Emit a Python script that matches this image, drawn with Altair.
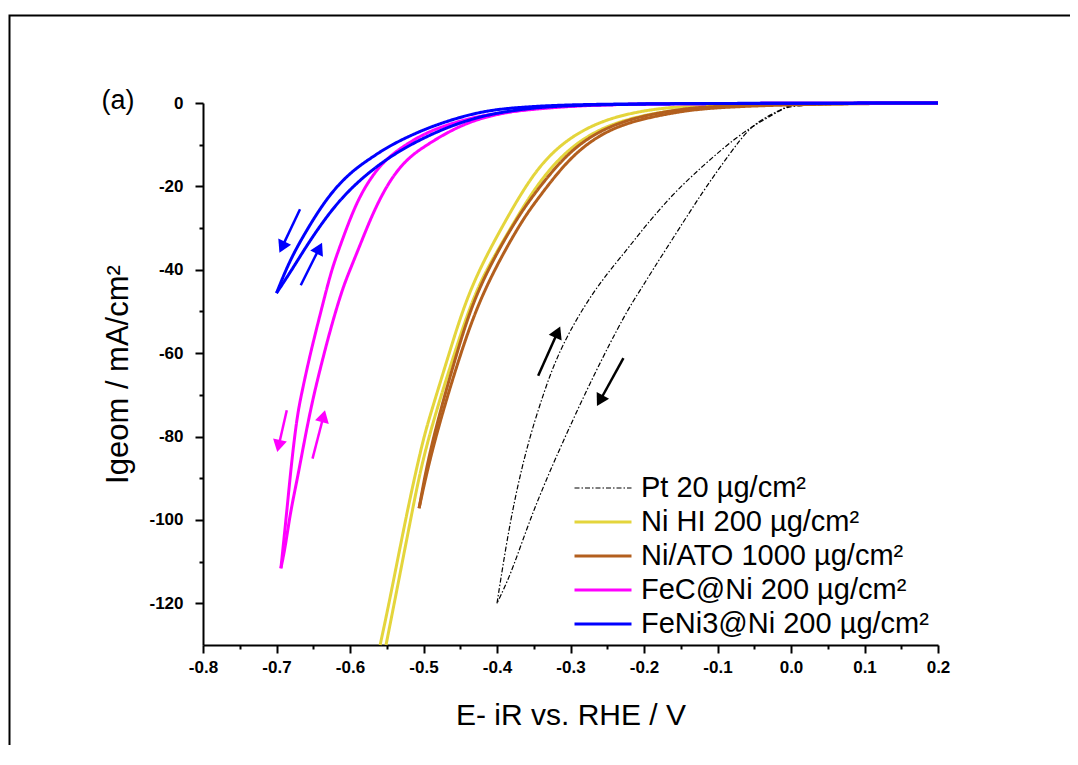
import math
import altair as alt
import pandas as pd

# ---------------- data ----------------
series_names = ["Pt 20 µg/cm²", "Ni HI 200 µg/cm²", "Ni/ATO 1000 µg/cm²",
                "FeC@Ni 200 µg/cm²", "FeNi3@Ni 200 µg/cm²"]
series_colors = ["#000000", "#E4D53C", "#B35F1E", "#FF00FF", "#0000FF"]
series_widths = [1.2, 3, 3, 3, 3]

# Pt 20 (black, dash-dot)
pt_a_E = [0.2, 0.1, 0.0, -0.006, -0.029, -0.056, -0.083, -0.119, -0.165, -0.187,
          -0.205, -0.224, -0.269, -0.314, -0.341, -0.36, -0.382, -0.40]
pt_a_I = [0, -0.1, -0.5, -0.9, -2.9, -5.7, -12.1, -20.9, -33.7, -39.7,
          -44.9, -50, -65.4, -82.6, -93.7, -102.3, -113.4, -120]
pt_b_E = [-0.40, -0.382, -0.36, -0.337, -0.314, -0.269, -0.224, -0.21, -0.165,
          -0.119, -0.074, -0.042, -0.01, 0.0, 0.1, 0.2]
pt_b_I = [-120, -99.7, -82.6, -69.7, -58.6, -44.9, -35.4, -32.1, -22.5,
          -14.9, -8.1, -4.5, -1.3, -0.6, -0.1, 0]

# Ni HI 200 (yellow)
nihi_a_E = [0.2, 0.0, -0.1, -0.165, -0.21, -0.255, -0.301, -0.346, -0.391, -0.437,
            -0.465, -0.493, -0.503, -0.523, -0.546, -0.559]
nihi_a_I = [0, -0.1, -0.4, -1.0, -2.1, -4.1, -8.1, -15.3, -28.9, -44.1,
            -60, -76, -82.5, -98.5, -119.3, -130]
nihi_b_E = [0.2, 0.0, -0.1, -0.165, -0.21, -0.255, -0.301, -0.346, -0.391, -0.428,
            -0.458, -0.498, -0.516, -0.539, -0.551]
nihi_b_I = [0, -0.2, -0.7, -1.8, -3.3, -5.7, -10.5, -19.3, -32.9, -44.1,
            -60, -82.5, -98.5, -119.3, -130]

# Ni/ATO 1000 (brown)
niato_a_E = [0.2, 0.0, -0.12, -0.165, -0.21, -0.255, -0.301, -0.346, -0.378, -0.428,
             -0.455, -0.491, -0.506]
niato_a_I = [0, -0.2, -0.8, -1.9, -3.4, -6.1, -11.3, -20.9, -28.9, -44.9,
             -60, -82.5, -97.2]
niato_b_E = [-0.506, -0.488, -0.450, -0.419, -0.369, -0.346, -0.301, -0.255, -0.21,
             -0.165, -0.12, 0.0, 0.2]
niato_b_I = [-97.2, -82.5, -60, -44.9, -28.9, -23.3, -12.9, -6.9, -4.1,
             -2.5, -1.2, -0.3, 0]

# FeC@Ni 200 (magenta)
fec_a_E = [0.2, 0.0, -0.2, -0.3, -0.41, -0.455, -0.50, -0.546, -0.568, -0.591,
           -0.614, -0.625, -0.636, -0.654, -0.665, -0.672, -0.680, -0.686, -0.694]
fec_a_I = [0, -0.05, -0.2, -0.6, -2.5, -4.5, -7.2, -12.5, -16.9, -23.5,
           -34.5, -40, -47.5, -60, -69, -75, -87, -98, -111.6]
fec_b_E = [-0.694, -0.688, -0.681, -0.672, -0.661, -0.65, -0.638, -0.627, -0.611,
           -0.6, -0.585, -0.568, -0.546, -0.523, -0.50, -0.455, -0.41, -0.35,
           -0.3, -0.2, 0.0, 0.2]
fec_b_I = [-111.6, -106.5, -98, -90.5, -80, -70.5, -62, -54.5, -44.9,
           -40, -33.5, -26, -18.5, -13.5, -10.5, -5.7, -2.9, -1.2,
           -0.6, -0.2, -0.05, 0]

# FeNi3@Ni 200 (blue)
feni_a_E = [0.2, 0.0, -0.2, -0.3, -0.35, -0.41, -0.455, -0.50, -0.546, -0.568,
            -0.591, -0.614, -0.636, -0.659, -0.682, -0.70]
feni_a_I = [0, -0.05, -0.15, -0.4, -0.8, -1.6, -3.6, -6.3, -10.2, -12.8,
            -15.5, -19.2, -24, -30.5, -37.7, -45.6]
feni_b_E = [-0.70, -0.679, -0.66, -0.637, -0.614, -0.586, -0.546, -0.50, -0.456,
            -0.41, -0.35, -0.30, -0.2, 0.0, 0.2]
feni_b_I = [-45.6, -40, -34.5, -28.5, -23.3, -18.3, -12.8, -8.3, -5.0,
            -2.6, -1.1, -0.6, -0.2, -0.05, 0]

# scan-direction arrows (start -> tip, data units)
arrow_E1 = [-0.668, -0.667, -0.686, -0.651, -0.344, -0.228]
arrow_I1 = [-25.5, -43.7, -73.7, -85.3, -65.4, -61.2]
arrow_E2 = [-0.696, -0.638, -0.699, -0.634, -0.314, -0.264]
arrow_I2 = [-35.9, -33.5, -83.7, -73.7, -53.6, -72.7]
arrow_col = ["#0000FF", "#0000FF", "#FF00FF", "#FF00FF", "#000000", "#000000"]

x_major = [-0.8, -0.7, -0.6, -0.5, -0.4, -0.3, -0.2, -0.1, 0.0, 0.1, 0.2]
x_minor = [-0.75, -0.65, -0.55, -0.45, -0.35, -0.25, -0.15, -0.05, 0.05, 0.15]
y_major = [0, -20, -40, -60, -80, -100, -120]
y_minor = [-10, -30, -50, -70, -90, -110]

# ---------------- build tables ----------------
W, H = 735, 542
XDOM, YDOM = [-0.8, 0.2], [-130, 0]
sx = W / (XDOM[1] - XDOM[0])
sy = H / (YDOM[1] - YDOM[0])

branches = [
    (series_names[0], "a", pt_a_E, pt_a_I), (series_names[0], "b", pt_b_E, pt_b_I),
    (series_names[1], "a", nihi_a_E, nihi_a_I), (series_names[1], "b", nihi_b_E, nihi_b_I),
    (series_names[2], "a", niato_a_E, niato_a_I), (series_names[2], "b", niato_b_E, niato_b_I),
    (series_names[3], "a", fec_a_E, fec_a_I), (series_names[3], "b", fec_b_E, fec_b_I),
    (series_names[4], "a", feni_a_E, feni_a_I), (series_names[4], "b", feni_b_E, feni_b_I),
]
rows = []
for s, b, Es, Is in branches:
    for k, (e, i) in enumerate(zip(Es, Is)):
        rows.append({"series": s, "branch": s + b, "idx": k, "E": e, "I": i})
df = pd.DataFrame(rows)

head_size = 200
head_h = 0.866 * math.sqrt(head_size) / 2
arows = []
for e1, i1, e2, i2, c in zip(arrow_E1, arrow_I1, arrow_E2, arrow_I2, arrow_col):
    dx = (e2 - e1) * sx
    dy = -(i2 - i1) * sy
    L = math.hypot(dx, dy)
    ux, uy = dx / L, dy / L
    ang = math.degrees(math.atan2(ux, -uy)) % 360
    hE = e2 - ux * head_h / sx
    hI = i2 + uy * head_h / sy
    arows.append({"E": e1, "I": i1, "E2": hE, "I2": hI, "col": c, "ang": ang})
adf = pd.DataFrame(arows)

FONT = "Liberation Sans"
xscale = alt.Scale(domain=XDOM, nice=False, zero=False)
yscale = alt.Scale(domain=YDOM, nice=False, zero=False)

x_test = "abs(datum.value*10 - round(datum.value*10)) < 0.01"
y_test = "datum.value % 20 == 0"

x_axis = alt.Axis(
    values=x_major + x_minor,
    labelExpr=x_test + " ? replace(format(datum.value, '.1f'), '\u2212', '-') : ''",
    tickSize={"condition": {"test": x_test, "value": 8}, "value": 4},
    tickWidth=2, tickColor="black", domainWidth=2, domainColor="black",
    labelFont=FONT, labelFontSize=17, labelFontWeight="bold", labelColor="black",
    labelPadding=6, labelFlush=False, labelOverlap=False,
    title="E- iR vs. RHE / V", titleFont=FONT, titleFontSize=30,
    titleFontWeight="normal", titleColor="black", titlePadding=25, grid=False,
)
y_axis = alt.Axis(
    values=y_major + y_minor,
    labelExpr=y_test + " ? replace(format(datum.value, 'd'), '\u2212', '-') : ''",
    tickSize={"condition": {"test": y_test, "value": 8}, "value": 4},
    tickWidth=2, tickColor="black", domainWidth=2, domainColor="black",
    labelFont=FONT, labelFontSize=17, labelFontWeight="bold", labelColor="black",
    labelPadding=12, labelFlush=False, labelOverlap=False,
    title="Igeom / mA/cm²", titleFont=FONT, titleFontSize=31,
    titleFontWeight="normal", titleColor="black", titlePadding=14, grid=False,
)


def X(field):
    return alt.X(field, type="quantitative", scale=xscale, axis=x_axis)


def Y(field):
    return alt.Y(field, type="quantitative", scale=yscale, axis=y_axis)


legend = alt.Legend(
    title=None, orient="none", legendX=370, legendY=371,
    symbolType="stroke", symbolSize=57 * 57, clipHeight=28, rowPadding=5,
    labelFont=FONT, labelFontSize=29, labelColor="black", labelOffset=8,
    labelLimit=600, padding=0, symbolStrokeWidth=3,
)

lines = alt.Chart(df).mark_line(clip=False, interpolate="basis").encode(
    x=X("E"), y=Y("I"),
    color=alt.Color("series:N", scale=alt.Scale(domain=series_names, range=series_colors),
                    legend=legend, sort=series_names),
    strokeDash=alt.StrokeDash("series:N", scale=alt.Scale(
        domain=series_names, range=[[5, 2, 1.5, 2], [1, 0], [1, 0], [1, 0], [1, 0]]),
        legend=legend, sort=series_names),
    strokeWidth=alt.StrokeWidth("series:N", scale=alt.Scale(type="ordinal", domain=series_names,
                                                            range=series_widths),
                                legend=legend, sort=series_names),
    detail="branch:N",
    order="idx:Q",
)

shafts = alt.Chart(adf).mark_rule(strokeWidth=2.5, clip=False).encode(
    x=X("E"), y=Y("I"),
    x2="E2:Q", y2="I2:Q",
    stroke=alt.Stroke("col:N", scale=None),
)
heads = alt.Chart(adf).mark_point(shape="triangle-up", filled=True, opacity=1,
                                  size=head_size, clip=False).encode(
    x=alt.X("E2", type="quantitative", scale=xscale, axis=x_axis),
    y=alt.Y("I2", type="quantitative", scale=yscale, axis=y_axis),
    fill=alt.Fill("col:N", scale=None),
    angle=alt.Angle("ang:Q", scale=None),
)

panel_label = alt.Chart(pd.DataFrame({"E": [-0.9156], "I": [0.5], "t": ["(a)"]})).mark_text(
    font=FONT, fontSize=27, color="black", baseline="middle", align="center", clip=False
).encode(
    x=X("E"), y=Y("I"),
    text="t:N",
)

frame = alt.Chart(pd.DataFrame({"k": [0]})).mark_rect(
    filled=False, stroke="black", strokeWidth=2, clip=False
).encode(
    x=alt.value(-193.5), y=alt.value(-87.5), x2=alt.value(1000), y2=alt.value(800)
)

chart = alt.layer(frame, lines, shafts, heads, panel_label).properties(
    width=W, height=H,
    autosize=alt.AutoSizeParams(type="none"),
    padding={"left": 195, "top": 95, "right": 132, "bottom": 100},
).configure(background="white").configure_view(stroke=None)

chart.save("out.html", embed_options={"renderer": "svg", "actions": False})
